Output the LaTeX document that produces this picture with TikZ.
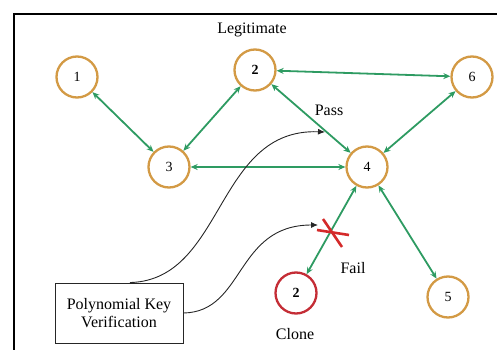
\documentclass[tikz,border=0pt]{standalone}
\usepackage{fontspec}
\setmainfont{Liberation Serif}
\usetikzlibrary{arrows.meta}
\definecolor{ringc}{HTML}{D39A45}
\definecolor{edgec}{HTML}{2E9B62}
\definecolor{clonec}{HTML}{C42D36}
\definecolor{xred}{HTML}{D42A2A}
\begin{document}
\begin{tikzpicture}[x=1pt,y=-1pt,
  peer/.style={circle,draw=ringc,line width=2.3pt,minimum size=41pt,inner sep=0pt,font=\fontsize{14}{14}\selectfont},
  link/.style={draw=edgec,line width=1.8pt,{Stealth[length=7pt,width=6pt]}-{Stealth[length=7pt,width=6pt]}},
  lbl/.style={font=\fontsize{16}{18}\selectfont},
  pointer/.style={draw=black!85,line width=0.9pt,-{Latex[length=7pt,width=6pt]}}
]
\useasboundingbox (0,0) rectangle (497,350);
\draw[line width=1.8pt] (14,350) -- (14,14) -- (497,14);

\node[peer] (n1) at (77,77) {1};
\node[peer] (n2) at (255,70) {\textbf{2}};
\node[peer] (n6) at (472,77) {6};
\node[peer] (n3) at (169,167) {3};
\node[peer] (n4) at (367,167) {4};
\node[peer,draw=clonec] (nc) at (296,293) {\textbf{2}};
\node[peer] (n5) at (448,297) {5};

\node[lbl] (leg) at (252,30) {Legitimate};
\node[lbl] (pass) at (329,110) {Pass};
\node[lbl] (fail) at (353,268) {Fail};
\node[lbl] (clone) at (295,334) {Clone};

\draw[link] (n1) -- (n3);
\draw[link] (n3) -- (n2);
\draw[link] (n2) -- (n6);
\draw[link] (n2) -- (n4);
\draw[link] (n6) -- (n4);
\draw[link] (n3) -- (n4);
\draw[link] (n4) -- (nc);
\draw[link] (n4) -- (n5);

\draw[xred,line width=2.6pt] (317,230) -- (349,235);
\draw[xred,line width=2.6pt] (323,219) -- (342,247);

\node[draw=black!85,line width=0.9pt,minimum width=128pt,minimum height=60pt,align=center,lbl] (box) at (119,313) {Polynomial Key\\Verification};

\coordinate (passend) at (325,132);
\coordinate (failend) at (318,225);
\draw[pointer] ([xshift=11pt]box.north) .. controls (225,280) and (215,128) .. (passend);
\draw[pointer] (box.east) .. controls (245,312) and (235,225) .. (failend);
\end{tikzpicture}
\end{document}
